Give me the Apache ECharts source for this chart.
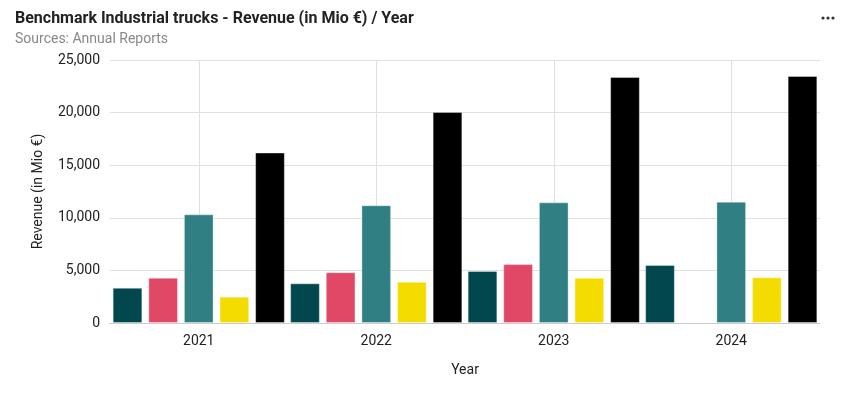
<!DOCTYPE html>
<html>
<head>
<meta charset="utf-8">
<script src="https://cdn.jsdelivr.net/npm/echarts@6/dist/echarts.min.js"></script>
<style>
  html, body { margin: 0; padding: 0; background: #fff; }
  #chart { width: 852px; height: 398px; }
</style>
</head>
<body>
<div id="chart"></div>
<script>
// values, Mio €
const years = ['2021', '2022', '2023', '2024'];
const seriesA = [3350, 3770, 4940, 5510];   // dark teal
const seriesB = [4300, 4820, 5600, null];   // pink
const seriesC = [10330, 11190, 11470, 11530]; // teal
const seriesD = [2500, 3930, 4310, 4340];   // yellow
const seriesE = [16200, 20060, 23380, 23480]; // black
const yTicks = [0, 5000, 10000, 15000, 20000, 25000];

const colors = ['#02474d', '#e04866', '#307f83', '#f5dc00', '#000000'];
const allSeries = [seriesA, seriesB, seriesC, seriesD, seriesE];

// hidden axis only for the vertical gridlines that sit on the category centres
const halfSteps = ['0', '1', '2', '3', '4', '5', '6', '7', '8'];

const chart = echarts.init(document.getElementById('chart'));

// the "..." menu icon, top right
const dots = [0, 1, 2].map((k) => ({
  type: 'circle',
  shape: { cx: 823 + k * 5, cy: 18, r: 1.6 },
  style: { fill: '#333' }
}));

const option = {
  textStyle: { fontFamily: 'Roboto' },
  title: {
    text: 'Benchmark Industrial trucks - Revenue (in Mio €) / Year',
    subtext: 'Sources: Annual Reports',
    left: 10,
    top: 6,
    itemGap: 5,
    textStyle: { fontSize: 16, fontWeight: 'bold', color: '#222' },
    subtextStyle: { fontSize: 14, color: '#888' }
  },
  graphic: dots,
  grid: { left: 110, right: 32, top: 60, bottom: 75 },
  xAxis: [
    {
      type: 'category',
      data: years,
      name: 'Year',
      nameLocation: 'middle',
      nameGap: 40,
      nameTextStyle: { fontSize: 14, color: '#222' },
      axisLine: { lineStyle: { color: '#ccc' } },
      axisTick: { show: false },
      axisLabel: { fontSize: 14, color: '#222', margin: 11 },
      splitLine: { show: false }
    },
    {
      type: 'category',
      data: halfSteps,
      boundaryGap: false,
      position: 'bottom',
      axisLine: { show: false },
      axisTick: { show: false },
      axisLabel: { show: false },
      splitLine: {
        show: true,
        interval: (i) => i % 2 === 1,
        lineStyle: { color: '#e0e0e0' }
      }
    }
  ],
  yAxis: {
    type: 'value',
    min: yTicks[0],
    max: yTicks[yTicks.length - 1],
    interval: 5000,
    name: 'Revenue (in Mio €)',
    nameLocation: 'middle',
    nameGap: 65,
    nameTextStyle: { fontSize: 14, color: '#222' },
    axisLine: { show: false },
    axisTick: { show: false },
    axisLabel: {
      fontSize: 14,
      color: '#222',
      margin: 10,
      formatter: (v) => v.toLocaleString('en-US')
    },
    splitLine: { lineStyle: { color: '#e0e0e0' } }
  },
  series: allSeries.map((vals, i) => ({
    type: 'bar',
    xAxisIndex: 0,
    data: vals,
    barGap: '20%',
    barCategoryGap: '3%',
    itemStyle: {
      color: colors[i],
      borderColor: 'rgba(255,255,255,0.35)',
      borderWidth: 1
    }
  }))
};

chart.setOption(option);
window.addEventListener('resize', () => chart.resize());
</script>
</body>
</html>
